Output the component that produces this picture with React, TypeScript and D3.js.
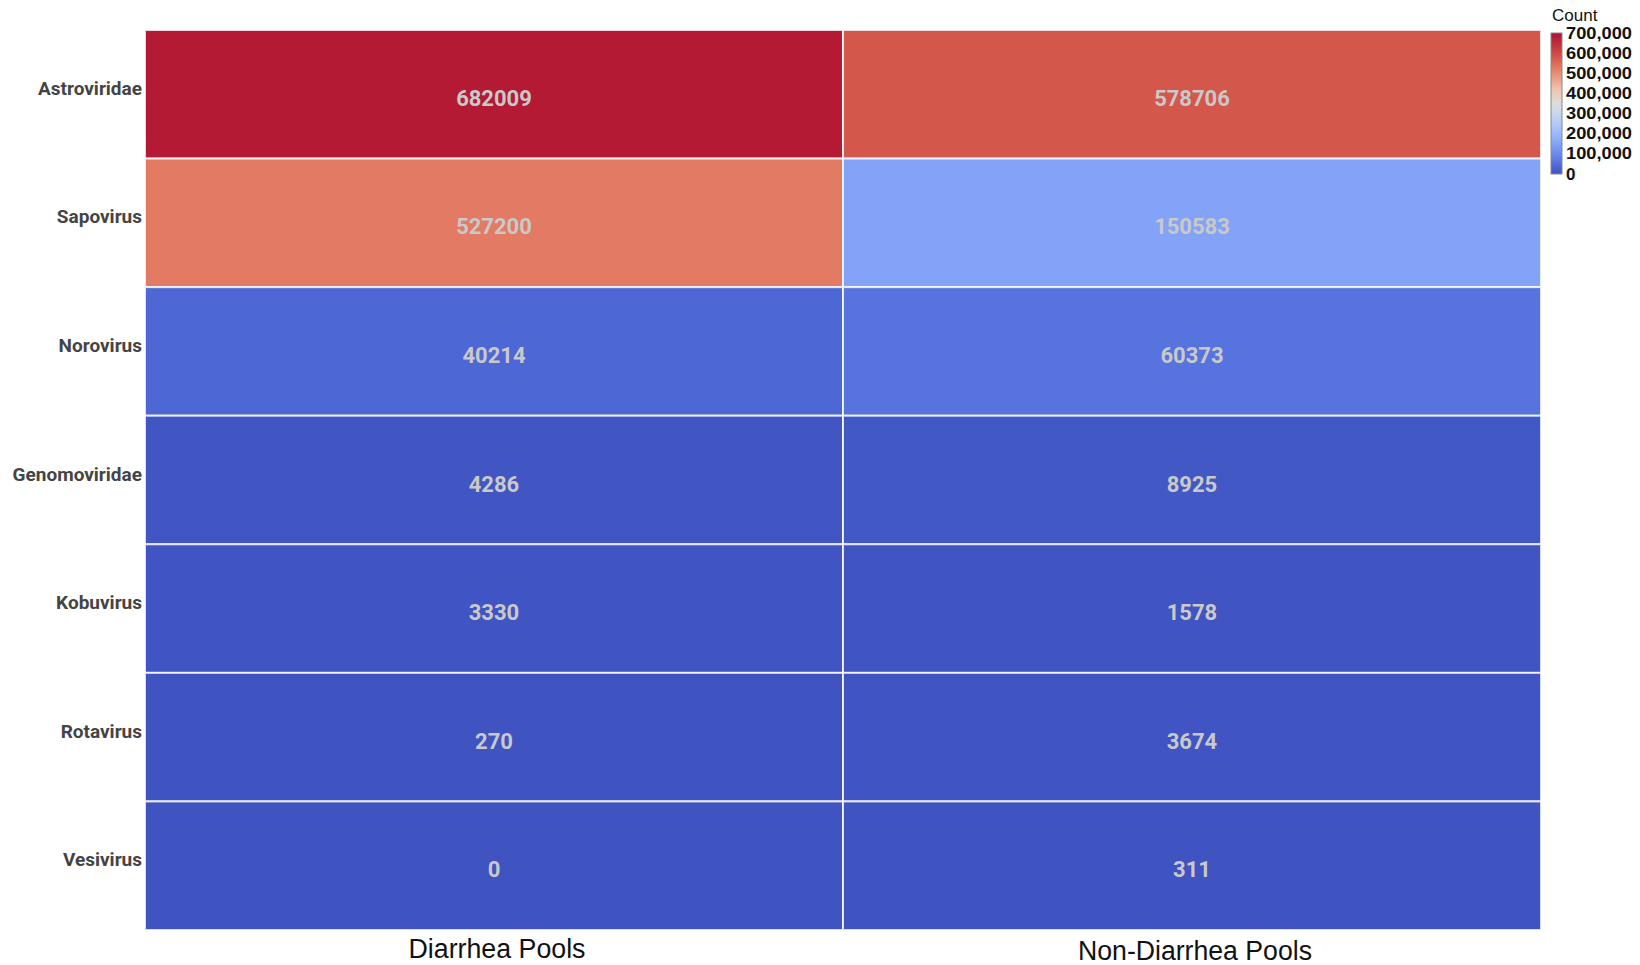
import React from "react";
import * as d3 from "d3";

const viruses = ["Astroviridae", "Sapovirus", "Norovirus", "Genomoviridae", "Kobuvirus", "Rotavirus", "Vesivirus"];
const pools = ["Diarrhea Pools", "Non-Diarrhea Pools"];
const diarrheaCounts = [682009, 527200, 40214, 4286, 3330, 270, 0];
const nonDiarrheaCounts = [578706, 150583, 60373, 8925, 1578, 3674, 311];
const legendTicks = [0, 100000, 200000, 300000, 400000, 500000, 600000, 700000];
const colorStopValues = [0, 40000, 100000, 200000, 300000, 350000, 420000, 527200, 580000, 700000];
const colorStopColors = ["#3f53c1", "#4d68d5", "#6a8bef", "#9abbff", "#c9d7f0", "#dddcdc", "#f2c4ad", "#e27a64", "#d4564a", "#ae0f30"];

const W = 1640;
const H = 965;
const M = { left: 145, right: 1541, top: 30, bottom: 930 };

export default function App() {
  const x = d3.scaleBand<string>().domain(pools).range([M.left, M.right]);
  const y = d3.scaleBand<string>().domain(viruses).range([M.top, M.bottom]);
  const color = d3.scaleLinear<string>().domain(colorStopValues).range(colorStopColors).interpolate(d3.interpolateRgb).clamp(true);
  const legY = d3.scaleLinear().domain([0, 700000]).range([174, 33]);
  const cells: { v: string; p: string; val: number }[] = [];
  viruses.forEach((v, i) => {
    cells.push({ v, p: pools[0], val: diarrheaCounts[i] });
    cells.push({ v, p: pools[1], val: nonDiarrheaCounts[i] });
  });
  const gradStops = d3.range(0, 1.0001, 0.05);
  const legX = 1551;
  const legW = 11;
  return (
    <svg width={W} height={H} style={{ position: "absolute", left: 0, top: 0, background: "#fff" }}>
      <defs>
        <linearGradient id="leg" x1="0" y1="1" x2="0" y2="0">
          {gradStops.map((t) => (
            <stop key={t} offset={t} stopColor={color(t * 700000)} />
          ))}
        </linearGradient>
      </defs>
      {cells.map((c) => (
        <rect key={c.v + c.p} x={x(c.p)} y={y(c.v)} width={x.bandwidth()} height={y.bandwidth()} fill={color(c.val)} stroke="#fff" strokeOpacity={0.8} strokeWidth={2} />
      ))}
      {cells.map((c) => (
        <text key={"t" + c.v + c.p} x={(x(c.p) as number) + x.bandwidth() / 2} y={(y(c.v) as number) + y.bandwidth() / 2 + 4} textAnchor="middle" dominantBaseline="central" fontFamily="Roboto" fontWeight="bold" fontSize={22} fill="#c9c9c9">
          {c.val}
        </text>
      ))}
      {viruses.map((v) => (
        <text key={"r" + v} x={142} y={(y(v) as number) + y.bandwidth() / 2 - 6} textAnchor="end" dominantBaseline="central" fontFamily="Roboto" fontWeight="bold" fontSize={19} fill="#444">
          {v}
        </text>
      ))}
      {pools.map((p, i) => (
        <text key={"c" + p} x={(x(p) as number) + x.bandwidth() / 2 + 3} y={958 + i * 2} textAnchor="middle" fontFamily="Liberation Sans, Arial" fontSize={27} fill="#111" textLength={i === 0 ? 177 : 234} lengthAdjust="spacingAndGlyphs">
          {p}
        </text>
      ))}
      <rect x={legX} y={legY(700000)} width={legW} height={legY(0) - legY(700000)} fill="url(#leg)" stroke="#888" strokeWidth={1} />
      {legendTicks.map((t) => (
        <text key={"l" + t} x={legX + legW + 4} y={legY(t)} dominantBaseline="central" fontFamily="Liberation Sans, Arial" fontWeight="bold" fontSize={17} fill="#111" textLength={t === 0 ? undefined : 66} lengthAdjust="spacingAndGlyphs">
          {d3.format(",")(t)}
        </text>
      ))}
      <text x={1552} y={21} fontFamily="Liberation Sans, Arial" fontSize={17} fill="#111">Count</text>
    </svg>
  );
}
